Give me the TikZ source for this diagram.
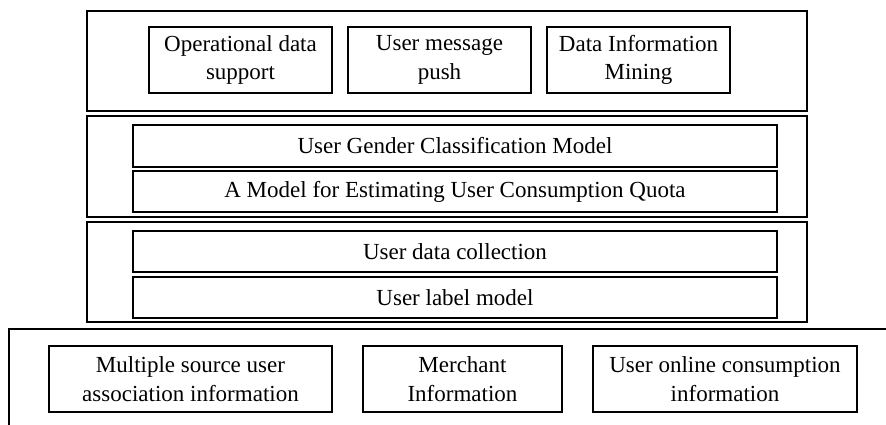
\documentclass[tikz,border=0pt]{standalone}
\usepackage{fontspec}
\setmainfont{Liberation Serif}
\usetikzlibrary{positioning}

\tikzset{
    layer/.style={draw, line width=1.3pt, inner sep=0pt, outer sep=0pt},
    box/.style={draw, line width=1.3pt, inner sep=0pt, outer sep=0pt,
        align=center, font=\fontsize{23}{28.5}\selectfont},
}

\begin{document}
\begin{tikzpicture}[x=1pt, y=-1pt]
    \useasboundingbox (0,0) rectangle (886,425);

    % The layers
    \node[layer, minimum width=720pt, minimum height=100pt] (app)   at (447,61)  {};
    \node[layer, minimum width=720pt, minimum height=101pt] (model) at (447,166.5) {};
    \node[layer, minimum width=720pt, minimum height=100pt] (data)  at (447,272) {};
    \coordinate (srcR) at (886,329);
    \coordinate (srcC) at (9,329);
    \coordinate (srcB) at (9,425);
    \draw[line width=1.3pt] (srcR) -- (srcC) -- (srcB);

    % Application layer
    \node[box, minimum width=183pt, minimum height=66pt] (ops)  at (240.5,60) {Operational data\\support};
    \node[box, minimum width=183pt, minimum height=66pt] (push) at (439.5,60) {User message\\push};
    \node[box, minimum width=183pt, minimum height=66pt] (mine) at (638.5,60) {Data Information\\Mining};

    % Model layer
    \node[box, minimum width=644pt, minimum height=42pt] (gender) at (455,146)   {User Gender Classification Model};
    \node[box, minimum width=644pt, minimum height=41pt] (quota)  at (455,191.5) {A Model for Estimating User Consumption Quota};

    % Data layer
    \node[box, minimum width=644pt, minimum height=41pt] (collect) at (455,251.5) {User data collection};
    \node[box, minimum width=644pt, minimum height=41pt] (label)   at (455,297.5) {User label model};

    % Source layer
    \node[box, minimum width=283pt, minimum height=66pt] (assoc)    at (190.5,379) {Multiple source user\\association information};
    \node[box, minimum width=199pt, minimum height=66pt] (merchant) at (462.5,379) {Merchant\\Information};
    \node[box, minimum width=264pt, minimum height=66pt] (online)   at (725,379)   {User online consumption\\information};
\end{tikzpicture}
\end{document}
